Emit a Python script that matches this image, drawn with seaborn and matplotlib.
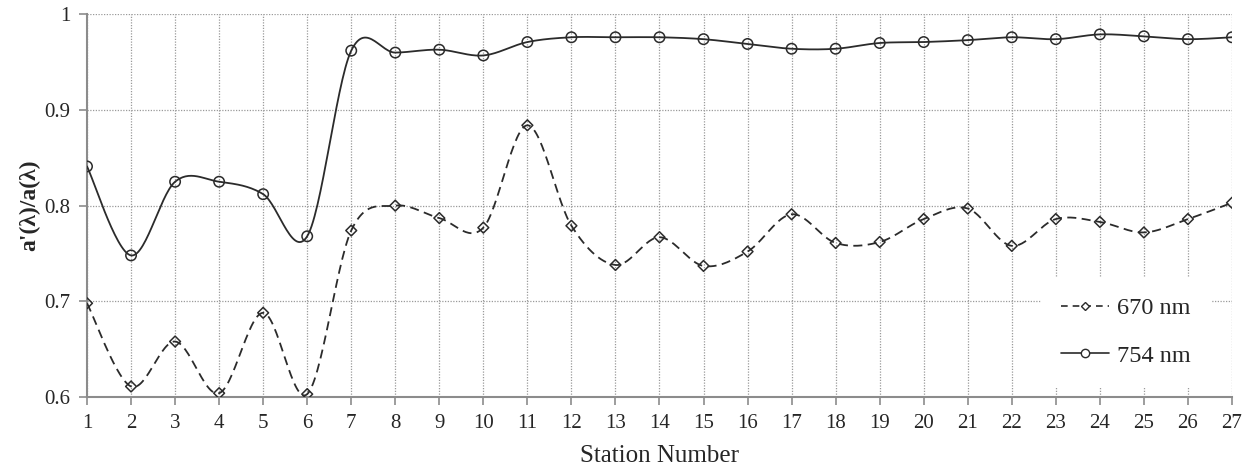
import numpy as np
import pandas as pd
import seaborn as sns
import matplotlib
matplotlib.use("Agg")
import matplotlib.pyplot as plt
from matplotlib.lines import Line2D

# Station numbers and absorption ratios a'(λ)/a(λ)
stations = list(range(1, 28))
ratio_670 = [0.698, 0.611, 0.658, 0.604, 0.688, 0.603, 0.774, 0.800, 0.787, 0.777,
             0.884, 0.779, 0.738, 0.767, 0.737, 0.752, 0.791, 0.761, 0.762, 0.786,
             0.797, 0.758, 0.786, 0.783, 0.772, 0.786, 0.803]
ratio_754 = [0.841, 0.748, 0.825, 0.825, 0.812, 0.768, 0.962, 0.960, 0.963, 0.957,
             0.971, 0.976, 0.976, 0.976, 0.974, 0.969, 0.964, 0.964, 0.970, 0.971,
             0.973, 0.976, 0.974, 0.979, 0.977, 0.974, 0.976]
series_labels = ["670 nm", "754 nm"]
y_ticks = [0.6, 0.7, 0.8, 0.9, 1.0]
y_tick_labels = ["0.6", "0.7", "0.8", "0.9", "1"]


def smooth_curve(x, y, steps=30):
    """Catmull-Rom style smoothed path through every point (spreadsheet 'smoothed line')."""
    x = np.asarray(x, float)
    y = np.asarray(y, float)
    px = np.concatenate([[x[0]], x, [x[-1]]])
    py = np.concatenate([[y[0]], y, [y[-1]]])
    xs, ys = [], []
    t = np.linspace(0, 1, steps, endpoint=False)
    for i in range(1, len(px) - 2):
        p0 = np.array([px[i], py[i]])
        p3 = np.array([px[i + 1], py[i + 1]])
        p1 = p0 + (np.array([px[i + 1], py[i + 1]]) - np.array([px[i - 1], py[i - 1]])) / 6
        p2 = p3 - (np.array([px[i + 2], py[i + 2]]) - np.array([px[i], py[i]])) / 6
        b = ((1 - t) ** 3)[:, None] * p0 + (3 * (1 - t) ** 2 * t)[:, None] * p1 \
            + (3 * (1 - t) * t ** 2)[:, None] * p2 + (t ** 3)[:, None] * p3
        xs.append(b[:, 0])
        ys.append(b[:, 1])
    xs.append([x[-1]])
    ys.append([y[-1]])
    return np.concatenate(xs), np.concatenate(ys)


sns.set_style("white")
plt.rcParams["font.family"] = ["Liberation Serif", "DejaVu Serif"]

fig = plt.figure(figsize=(12.52, 4.69), dpi=100)
ax = fig.add_axes([0.0695, 0.1535, 0.9145, 0.816])

line_color = "#2b2b2b"
styles = {
    "670 nm": dict(ls=(0, (5, 3)), marker="D", ms=5.5),
    "754 nm": dict(ls="-", marker="o", ms=7.5),
}

df = pd.DataFrame({
    "station": stations * 2,
    "ratio": ratio_670 + ratio_754,
    "series": [series_labels[0]] * len(stations) + [series_labels[1]] * len(stations),
})

for name, vals in zip(series_labels, [ratio_670, ratio_754]):
    sx, sy = smooth_curve(stations, vals)
    curve = pd.DataFrame({"x": sx, "y": sy})
    st = styles[name]
    sns.lineplot(data=curve, x="x", y="y", ax=ax, color=line_color, lw=1.3,
                 linestyle=st["ls"], sort=False, estimator=None, zorder=3)
    sub = df[df["series"] == name]
    sns.scatterplot(data=sub, x="station", y="ratio", ax=ax, marker=st["marker"],
                    s=st["ms"] ** 2, facecolor="none", edgecolor=line_color,
                    linewidth=1.1, zorder=4, legend=False)

ax.set_xlim(1, 27)
ax.set_ylim(0.6, 1.0)
ax.set_xticks(stations)
ax.set_xticklabels([str(s) for s in stations])
ax.set_yticks(y_ticks)
ax.set_yticklabels(y_tick_labels)

ax.grid(True, color="#9a9a9a", linestyle=(0, (1, 1.2)), linewidth=0.9)
ax.set_axisbelow(True)
for side in ["top", "right"]:
    ax.spines[side].set_visible(False)
for side in ["left", "bottom"]:
    ax.spines[side].set_color("#8c8c8c")
    ax.spines[side].set_linewidth(1.5)
ax.tick_params(axis="both", direction="out", length=6, width=1.2, color="#8c8c8c",
               labelsize=15, pad=6, bottom=True, left=True)

ax.set_xlabel("Station Number", fontsize=18, labelpad=9)
ax.set_ylabel("a'(λ)/a(λ)", fontsize=17, fontweight="bold", labelpad=3)

handles = [
    Line2D([0], [0], color=line_color, lw=1.2, ls=(0, (4, 3)), marker="D", ms=4.5,
           mfc="white", mec=line_color),
    Line2D([0], [0], color=line_color, lw=1.2, ls="-", marker="o", ms=6,
           mfc="white", mec=line_color),
]
leg = ax.legend(handles, series_labels, loc="center", bbox_to_anchor=(0.907, 0.170),
                frameon=True, fancybox=False, facecolor="white", edgecolor="white",
                framealpha=1, fontsize=17.5, handlelength=2.0, handletextpad=0.3,
                labelspacing=1.05, borderpad=0.8, borderaxespad=0)
leg.set_zorder(10)

fig.savefig("out.png", dpi=100)
